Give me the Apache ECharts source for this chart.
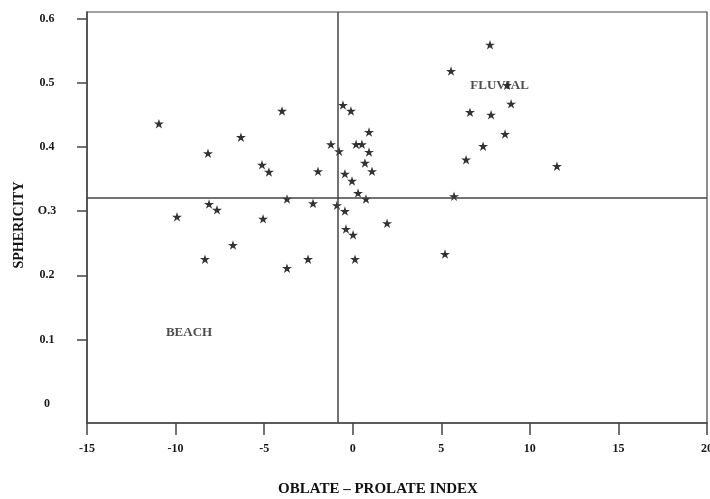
<!DOCTYPE html>
<html>
<head>
<meta charset="utf-8">
<script src="https://cdn.jsdelivr.net/npm/echarts@6/dist/echarts.min.js"></script>
<style>
html,body{margin:0;padding:0;background:#fff;}
#chart{width:710px;height:499px;}
</style>
</head>
<body>
<div id="chart"></div>
<script>
// Oblate–prolate index (x) and sphericity (y) of each pebble
var oblateProlate = [
  -10.94, -3.99, -6.31, -8.17, -5.12, -4.73, -3.71, -8.11, -7.66, -9.92, -5.06, -6.76, -8.34, -3.71,
  -0.55, -0.10, 0.92, -1.23, 0.19, 0.52, -0.77, 0.92, 0.69, -1.96, 1.09, -0.44, -0.04, 0.30, 0.75,
  -2.24, -0.89, -0.44, 1.94, -0.38, 0.02, -2.52, 0.13,
  7.75, 5.55, 8.71, 8.94, 6.62, 7.81, 8.60, 7.36, 6.40, 11.53, 5.72, 5.21
];
var sphericity = [
  0.436, 0.456, 0.415, 0.390, 0.372, 0.361, 0.319, 0.311, 0.302, 0.291, 0.288, 0.247, 0.225, 0.211,
  0.465, 0.456, 0.423, 0.404, 0.404, 0.404, 0.393, 0.392, 0.375, 0.362, 0.362, 0.358, 0.347, 0.328, 0.319,
  0.312, 0.309, 0.300, 0.281, 0.272, 0.263, 0.225, 0.225,
  0.559, 0.518, 0.496, 0.467, 0.454, 0.450, 0.420, 0.401, 0.380, 0.370, 0.323, 0.233
];
// Dividing lines
var dividerX = -0.83;
var dividerY = 0.32;
// Field labels
var fieldNames = ['FLUVIAL', 'BEACH'];
var fieldX = [8.29, -9.24];
var fieldY = [0.496, 0.11];
// Axis ticks
var xTicks = [-15, -10, -5, 0, 5, 10, 15, 20];
var yTickValues = [0, 0.1, 0.2, 0.3, 0.4, 0.5, 0.6];
var yTickLabels = ['0', '0.1', '0.2', 'O.3', '0.4', '0.5', '0.6'];
var xAxisTitle = 'OBLATE \u2013 PROLATE INDEX';
var yAxisTitle = 'SPHERICITY';

var points = oblateProlate.map(function (x, i) { return [x, sphericity[i]]; });
var fieldData = fieldNames.map(function (n, i) { return { name: n, value: [fieldX[i], fieldY[i]] }; });

var star = 'path://M0,-10 L2.245,-3.09 L9.51,-3.09 L3.633,1.18 L5.88,8.09 L0,3.82 L-5.88,8.09 L-3.633,1.18 L-9.51,-3.09 L-2.245,-3.09 Z';
var serif = '"Liberation Serif", "DejaVu Serif", serif';

var chart = echarts.init(document.getElementById('chart'), null, { renderer: 'canvas' });
chart.setOption({
  animation: false,
  backgroundColor: '#ffffff',
  grid: { left: 87, right: 3, top: 12, bottom: 76, containLabel: false, outerBoundsMode: 'none', show: true, borderColor: '#444', borderWidth: 1.2, backgroundColor: 'transparent' },
  xAxis: {
    type: 'value', min: xTicks[0], max: xTicks[xTicks.length - 1], interval: 5,
    axisLine: { show: true, onZero: false, lineStyle: { color: '#444', width: 1.5 } },
    axisTick: { show: true, length: 12, lineStyle: { color: '#444', width: 1.5 } },
    axisLabel: { margin: 20, color: '#1a1a1a', fontFamily: serif, fontWeight: 'bold', fontSize: 12 },
    splitLine: { show: false }
  },
  yAxis: {
    type: 'value', min: -0.03, max: 0.61,
    axisLine: { show: true, onZero: false, lineStyle: { color: '#444', width: 1.5 } },
    axisTick: { show: true, length: 10, customValues: yTickValues.slice(1), lineStyle: { color: '#444', width: 1.5 } },
    axisLabel: {
      customValues: yTickValues, margin: 40, align: 'center',
      color: '#1a1a1a', fontFamily: serif, fontWeight: 'bold', fontSize: 12,
      formatter: function (v) { return yTickLabels[Math.round(v * 10)]; }
    },
    splitLine: { show: false }
  },
  graphic: [
    { type: 'text', x: 378, y: 489, style: { text: xAxisTitle, textAlign: 'center', textVerticalAlign: 'middle', fill: '#111', font: 'bold 15px ' + serif } },
    { type: 'text', x: 19, y: 225, rotation: Math.PI / 2, style: { text: yAxisTitle, textAlign: 'center', textVerticalAlign: 'middle', fill: '#111', font: 'bold 14px ' + serif } }
  ],
  series: [
    {
      type: 'scatter', data: points, symbol: star, symbolSize: [10, 9.5],
      itemStyle: { color: '#000' }, z: 3,
      markLine: {
        silent: true, symbol: ['none', 'none'], label: { show: false },
        lineStyle: { color: '#444', width: 1.5, type: 'solid' },
        data: [{ xAxis: dividerX }, { yAxis: dividerY }]
      }
    },
    {
      type: 'scatter', data: fieldData, symbolSize: 0, z: 4,
      label: { show: true, position: 'inside', formatter: '{b}', color: '#222', fontFamily: serif, fontWeight: 'bold', fontSize: 13 }
    }
  ]
});
</script>
</body>
</html>
